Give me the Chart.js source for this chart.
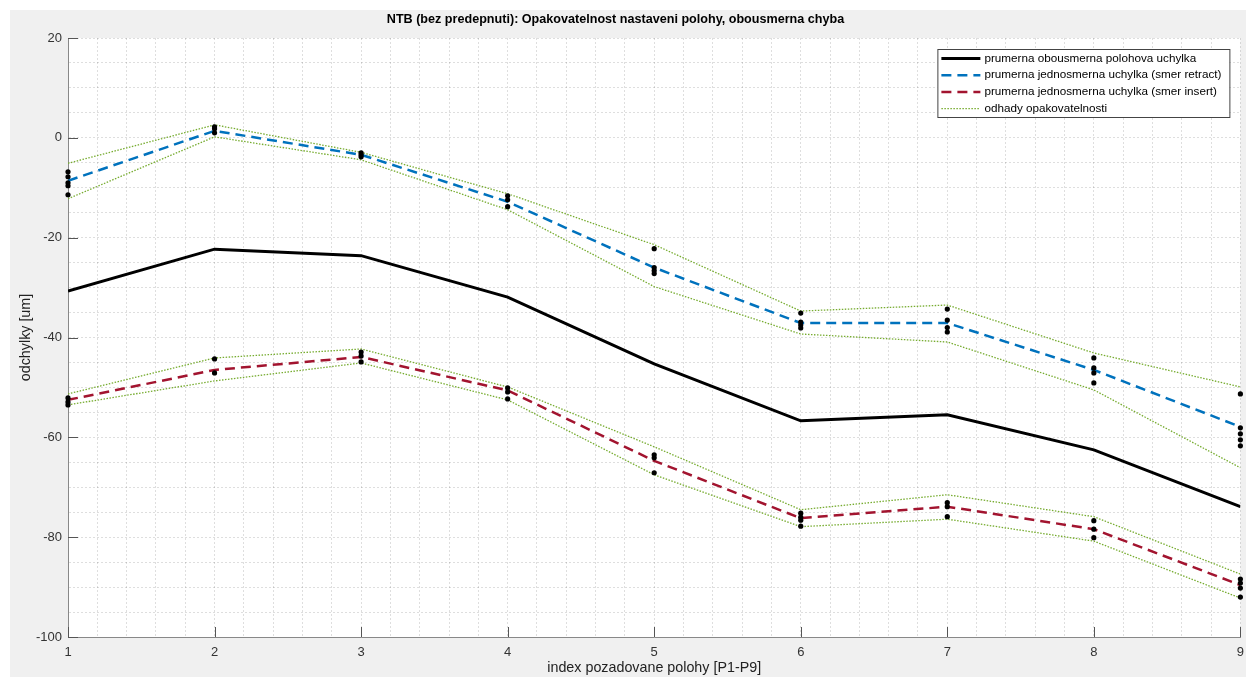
<!DOCTYPE html>
<html>
<head>
<meta charset="utf-8">
<script src="https://cdn.jsdelivr.net/npm/chart.js@4/dist/chart.umd.min.js"></script>
<style>
  body { margin: 0; background: #ffffff; overflow: hidden; }
  #fig { position: absolute; left: 10px; top: 10px; width: 1242px; height: 667px; background: #f0f0f0; }
</style>
</head>
<body>
<div id="fig"><canvas id="myChart"></canvas></div>
<script>
// positions P1..P9
const positions = [1, 2, 3, 4, 5, 6, 7, 8, 9];

// mean values [um]
const meanBoth    = [-30.7, -22.3, -23.6, -31.9, -45.3, -56.7, -55.5, -62.5, -73.9];
const meanRetract = [-8.6, 1.4, -3.4, -12.8, -26.0, -37.1, -37.1, -46.5, -57.9];
const meanInsert  = [-52.5, -46.5, -43.9, -50.6, -64.7, -76.2, -73.9, -78.4, -89.6];

// repeatability estimates
const retractUpper = [-5.1, 2.6, -2.9, -11.2, -21.4, -34.7, -33.5, -43.1, -49.9];
const retractLower = [-12.2, 0.2, -4.4, -14.4, -29.8, -39.3, -40.9, -50.5, -66.1];
const insertUpper  = [-51.3, -44.1, -42.3, -49.9, -61.9, -74.5, -71.5, -75.9, -87.4];
const insertLower  = [-53.5, -48.7, -45.1, -52.5, -67.5, -77.9, -76.4, -80.8, -92.2];

// single measurements
const retractSamples = [
    [-6.8, -7.8, -9.0, -9.6, -11.4],
    [2.2, 1.8, 1.0],
    [-3.0, -3.4, -3.8],
    [-11.6, -12.4, -13.8],
    [-22.2, -26.0, -26.6, -27.2],
    [-35.1, -36.9, -37.5, -38.1],
    [-34.3, -36.5, -38.0, -38.9],
    [-44.1, -46.1, -47.1, -49.1],
    [-51.3, -58.1, -59.3, -60.5, -61.7],
];
const insertSamples = [
    [-52.1, -52.9, -53.5],
    [-44.3, -47.1],
    [-42.9, -43.7, -44.9],
    [-50.1, -50.9, -52.3],
    [-63.5, -64.1, -67.1],
    [-75.2, -76.0, -76.6, -77.8],
    [-73.1, -73.9, -75.9],
    [-76.7, -78.4, -80.1],
    [-88.4, -89.2, -90.2, -92.0],
];

const yTicksMajor = [20, 0, -20, -40, -60, -80, -100];
const chartTitle = "NTB (bez predepnuti): Opakovatelnost nastaveni polohy, obousmerna chyba";

const toPoints = (values) => values.map((v, i) => ({ x: positions[i], y: v }));
const samplesToPoints = (samples) => {
    let pts = [];
    samples.forEach((list, i) => {
        list.forEach((v) => pts.push({ x: positions[i], y: v }));
    });
    return pts;
};

const GREEN = "#77AC30";
const FONT = "'Liberation Sans', Arial, sans-serif";

const whiteArea = {
    id: "whiteArea",
    beforeDraw(chart) {
        const { ctx, chartArea } = chart;
        ctx.save();
        ctx.fillStyle = "#ffffff";
        ctx.fillRect(chartArea.left, chartArea.top, chartArea.right - chartArea.left, chartArea.bottom - chartArea.top);
        // title (matlab puts it a bit left of the centre here)
        ctx.fillStyle = "#000";
        ctx.font = "bold 12.6px " + FONT;
        ctx.textAlign = "center";
        ctx.textBaseline = "middle";
        ctx.fillText(chartTitle, chartArea.left + 547.5, 9.5);
        ctx.restore();
    },
};

// matlab style inner tick marks
const innerTicks = {
    id: "innerTicks",
    afterDatasetsDraw(chart) {
        const { ctx, chartArea, scales } = chart;
        ctx.save();
        ctx.strokeStyle = "#555";
        ctx.lineWidth = 1;
        positions.forEach((p) => {
            const x = Math.round(scales.x.getPixelForValue(p)) + 0.5;
            ctx.beginPath();
            ctx.moveTo(x, chartArea.bottom);
            ctx.lineTo(x, chartArea.bottom - 10);
            ctx.stroke();
        });
        yTicksMajor.forEach((v) => {
            const y = Math.round(scales.y.getPixelForValue(v)) + 0.5;
            ctx.beginPath();
            ctx.moveTo(chartArea.left, y);
            ctx.lineTo(chartArea.left + 10, y);
            ctx.stroke();
        });
        ctx.restore();
    },
};

const boxLegend = {
    id: "boxLegend",
    afterDraw(chart) {
        const { ctx, chartArea } = chart;
        const entries = chart.data.datasets.filter((ds) => ds.inLegend);
        const left = chartArea.right - 303;
        const top = chartArea.top + 11;
        const w = 292;
        const h = 68;
        ctx.save();
        ctx.fillStyle = "#ffffff";
        ctx.fillRect(left, top, w, h);
        ctx.strokeStyle = "#444";
        ctx.lineWidth = 1;
        ctx.strokeRect(left + 0.5, top + 0.5, w, h);
        ctx.font = "11.7px " + FONT;
        ctx.textBaseline = "middle";
        entries.forEach((ds, i) => {
            const y = top + 9.5 + i * 16.7;
            ctx.beginPath();
            ctx.strokeStyle = ds.borderColor;
            ctx.lineWidth = ds.borderWidth;
            ctx.setLineDash(ds.borderDash || []);
            ctx.moveTo(left + 4, y);
            ctx.lineTo(left + 43, y);
            ctx.stroke();
            ctx.setLineDash([]);
            ctx.fillStyle = "#000";
            ctx.fillText(ds.label, left + 47, y);
        });
        ctx.restore();
    },
};

const lineSet = (label, values, color, width, dash, inLegend) => ({
    label: label,
    data: toPoints(values),
    borderColor: color,
    backgroundColor: color,
    borderWidth: width,
    borderDash: dash,
    pointRadius: 0,
    tension: 0,
    fill: false,
    inLegend: inLegend,
});

const dotSet = (samples) => ({
    label: "",
    data: samplesToPoints(samples),
    showLine: false,
    pointRadius: 2.6,
    pointBackgroundColor: "#000",
    pointBorderWidth: 0,
    borderColor: "#000",
    clip: false,
    inLegend: false,
});

const datasets = [
    dotSet(retractSamples),
    dotSet(insertSamples),
    lineSet("prumerna obousmerna polohova uchylka", meanBoth, "#000000", 3, [], true),
    lineSet("prumerna jednosmerna uchylka (smer retract)", meanRetract, "#0072BD", 2.5, [10, 6], true),
    lineSet("prumerna jednosmerna uchylka (smer insert)", meanInsert, "#A2142F", 2.5, [10, 6], true),
    lineSet("odhady opakovatelnosti", retractUpper, GREEN, 1.3, [1.5, 1.5], true),
    lineSet("odhady opakovatelnosti", retractLower, GREEN, 1.3, [1.5, 1.5], false),
    lineSet("odhady opakovatelnosti", insertUpper, GREEN, 1.3, [1.5, 1.5], false),
    lineSet("odhady opakovatelnosti", insertLower, GREEN, 1.3, [1.5, 1.5], false),
];
// dots drawn on top
datasets[0].order = -1;
datasets[1].order = -1;

const tickFont = { family: FONT, size: 13 };
const labelFont = { family: FONT, size: 14.3, lineHeight: 1.2 };
const gridStyle = {
    color: "rgba(0,0,0,0.13)",
    lineWidth: 1,
    drawTicks: false,
};

new Chart(document.getElementById("myChart"), {
    type: "line",
    data: { datasets: datasets },
    options: {
        responsive: true,
        maintainAspectRatio: false,
        animation: false,
        events: [],
        layout: { padding: { left: 0, right: 0, top: 28, bottom: 0 } },
        plugins: {
            legend: { display: false },
            tooltip: { enabled: false },
            title: { display: false },
        },
        scales: {
            x: {
                type: "linear",
                min: 1,
                max: 9,
                afterFit: (scale) => { scale.height = 40; },
                grid: gridStyle,
                border: { display: true, color: "#888", width: 1, dash: [2, 2] },
                ticks: {
                    stepSize: 0.2,
                    autoSkip: false,
                    maxRotation: 0,
                    padding: 8,
                    color: "#333",
                    font: tickFont,
                    callback: (v) => (Math.abs(v - Math.round(v)) < 1e-6 ? String(Math.round(v)) : ""),
                },
                title: {
                    display: true,
                    text: "index pozadovane polohy [P1-P9]",
                    color: "#222",
                    font: labelFont,
                    padding: { top: 0, bottom: 0 },
                },
            },
            y: {
                type: "linear",
                min: -100,
                max: 20,
                afterFit: (scale) => { scale.width = 58; },
                grid: gridStyle,
                border: { display: true, color: "#888", width: 1, dash: [2, 2] },
                ticks: {
                    stepSize: 5,
                    autoSkip: false,
                    padding: 6,
                    color: "#333",
                    font: tickFont,
                    callback: (v) => (Math.round(v) % 20 === 0 ? String(Math.round(v)) : ""),
                },
                title: {
                    display: true,
                    text: "odchylky [um]",
                    color: "#222",
                    font: labelFont,
                    padding: { top: 7, bottom: 0 },
                },
            },
        },
    },
    plugins: [whiteArea, innerTicks, boxLegend],
});
</script>
</body>
</html>
